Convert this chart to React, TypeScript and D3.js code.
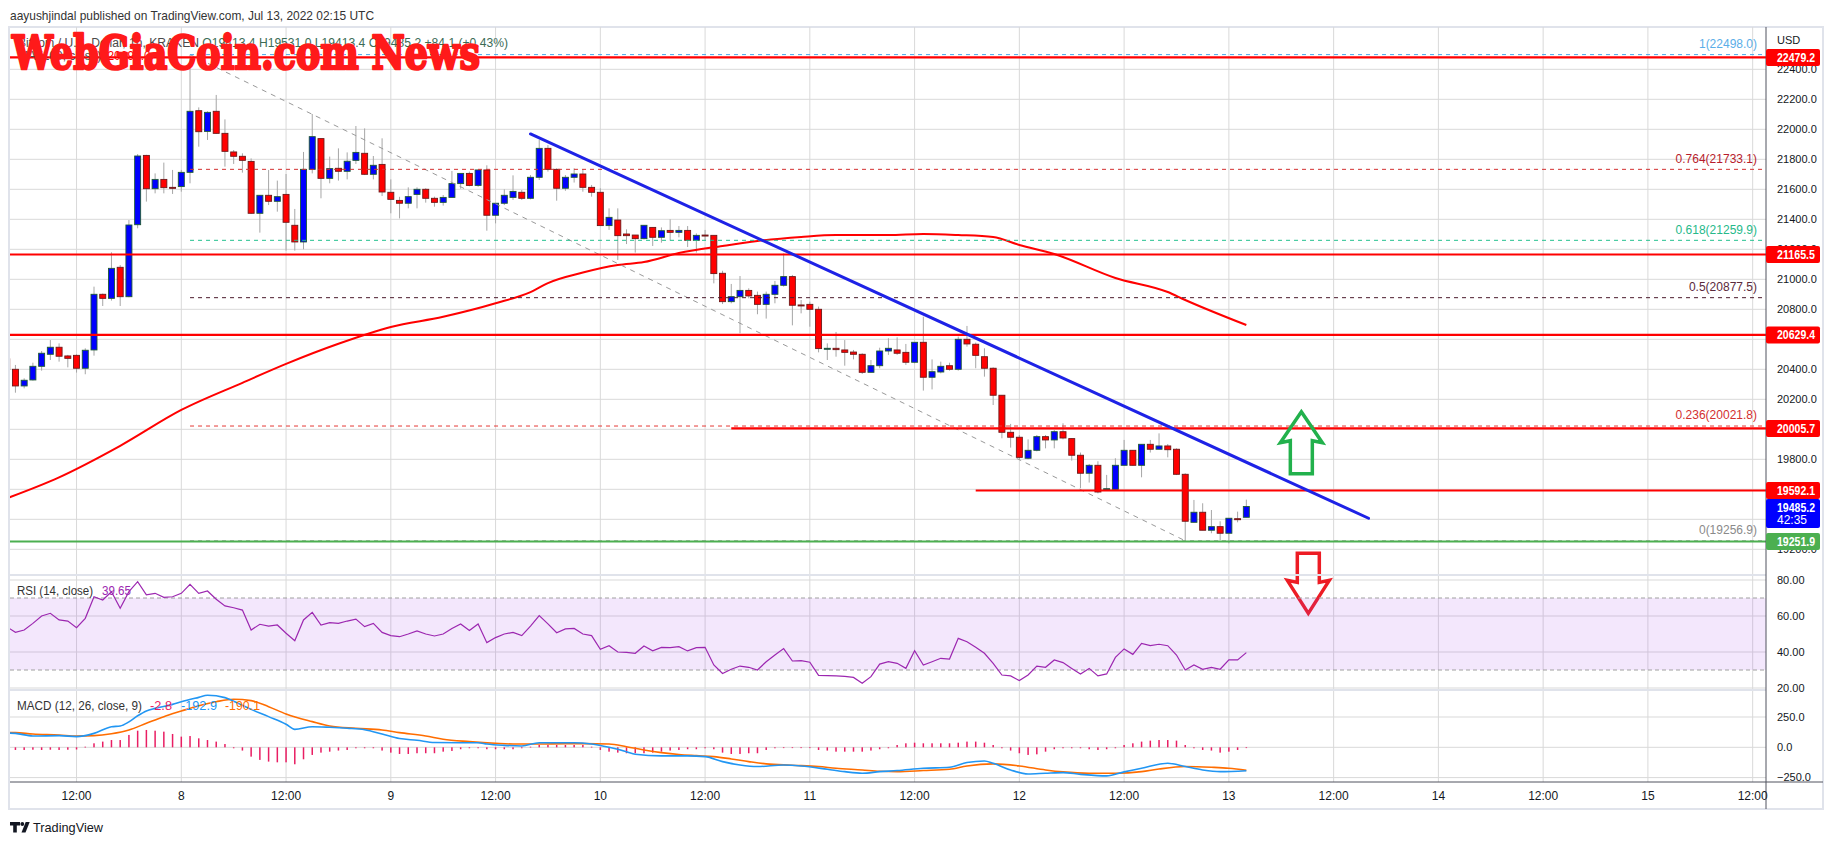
import React from 'react';
import * as d3 from 'd3';

// hours are counted from Jul 8 2022 00:00, one candle per hour
const FIRST_HOUR = -20;

const opens = [
  20470, 20400, 20289, 20329, 20420, 20500, 20547, 20489, 20493, 20407,
  20529, 20900, 20873, 21080, 20884, 21364, 21826, 21604, 21666, 21613,
  21618, 21713, 22124, 21986, 22120, 21973, 21849, 21820, 21786, 21440,
  21560, 21520, 21566, 21360, 21249, 21733, 21938, 21673, 21740, 21720,
  21793, 21840, 21700, 21766, 21580, 21526, 21507, 21566, 21600, 21540,
  21513, 21546, 21638, 21706, 21626, 21729, 21427, 21507, 21546, 21580,
  21540, 21680, 21873, 21733, 21607, 21680, 21702, 21613, 21580, 21358,
  21395, 21302, 21295, 21271, 21346, 21280, 21326, 21313, 21326, 21260,
  21295, 21293, 21040, 20851, 20884, 20926, 20893, 20833, 20900, 20960,
  21018, 20829, 20833, 20800, 20538, 20540, 20529, 20515, 20500, 20380,
  20424, 20522, 20529, 20513, 20447, 20580, 20347, 20382, 20424, 20400,
  20600, 20567, 20484, 20407, 20227, 19980, 19947, 19807, 19860, 19951,
  19929, 19984, 19938, 19827, 19707, 19760, 19600, 19600, 19760, 19860,
  19760, 19900, 19867, 19889, 19867, 19700, 19380, 19447, 19327, 19351,
  19307, 19404, 19413.4,
];
const highs = [
  20480, 20429, 20340, 20444, 20522, 20595, 20573, 20496, 20500, 20540,
  20951, 20905, 21180, 21095, 21395, 21835, 21830, 21706, 21778, 21729,
  21729, 22498, 22146, 22120, 22229, 22066, 21862, 21840, 21806, 21562,
  21729, 21658, 21702, 21469, 21849, 22102, 21940, 21818, 21873, 21846,
  22022, 22006, 21822, 21940, 21666, 21550, 21613, 21613, 21607, 21551,
  21562, 21722, 21706, 21718, 21729, 21760, 21507, 21600, 21693, 21595,
  21695, 21929, 21895, 21740, 21695, 21740, 21733, 21629, 21607, 21473,
  21473, 21333, 21295, 21360, 21346, 21346, 21400, 21355, 21355, 21306,
  21329, 21293, 21057, 20969, 21022, 20940, 20918, 20918, 20989, 21173,
  21029, 20862, 20851, 20818, 20573, 20649, 20595, 20529, 20507, 20462,
  20544, 20607, 20613, 20569, 20580, 20751, 20466, 20451, 20444, 20618,
  20689, 20578, 20540, 20413, 20227, 20036, 19962, 19933, 19962, 19962,
  19995, 20040, 19940, 19845, 19769, 19787, 19696, 19807, 19929, 19862,
  19900, 19929, 19973, 19902, 19873, 19707, 19529, 19507, 19462, 19387,
  19407, 19451, 19531,
];
const lows = [
  20395, 20244, 20273, 20325, 20391, 20462, 20451, 20413, 20378, 20367,
  20491, 20822, 20858, 20822, 20880, 21340, 21518, 21573, 21573, 21569,
  21584, 21640, 21884, 21929, 21970, 21751, 21769, 21711, 21435, 21311,
  21495, 21451, 21191, 21191, 21200, 21706, 21540, 21640, 21658, 21666,
  21769, 21695, 21666, 21555, 21440, 21406, 21473, 21473, 21511, 21484,
  21491, 21546, 21604, 21620, 21617, 21324, 21373, 21495, 21529, 21529,
  21533, 21662, 21718, 21524, 21590, 21645, 21584, 21551, 21358, 21329,
  21129, 21235, 21178, 21266, 21222, 21244, 21258, 21280, 21215, 21178,
  21262, 20973, 20835, 20840, 20640, 20873, 20767, 20738, 20840, 20951,
  20693, 20773, 20684, 20513, 20462, 20484, 20424, 20466, 20369, 20380,
  20407, 20496, 20496, 20429, 20440, 20258, 20266, 20373, 20391, 20391,
  20551, 20407, 20351, 20162, 19940, 19878, 19795, 19800, 19853, 19873,
  19873, 19933, 19791, 19607, 19645, 19573, 19591, 19595, 19760, 19758,
  19680, 19845, 19867, 19813, 19695, 19257, 19380, 19327, 19307, 19262,
  19240, 19380, 19413.4,
];
const closes = [
  20400, 20289, 20327, 20420, 20507, 20547, 20487, 20473, 20407, 20527,
  20900, 20873, 21073, 20884, 21362, 21822, 21604, 21666, 21611, 21613,
  21713, 22120, 21984, 22113, 21973, 21853, 21820, 21793, 21440, 21560,
  21520, 21551, 21380, 21249, 21733, 21951, 21673, 21738, 21720, 21787,
  21846, 21700, 21760, 21582, 21533, 21507, 21551, 21600, 21540, 21513,
  21546, 21638, 21706, 21626, 21729, 21427, 21507, 21560, 21586, 21540,
  21680, 21873, 21733, 21607, 21680, 21702, 21613, 21580, 21358, 21413,
  21291, 21291, 21271, 21360, 21280, 21324, 21313, 21326, 21260, 21293,
  21295, 21038, 20851, 20884, 20926, 20889, 20833, 20900, 20960, 21018,
  20827, 20829, 20800, 20538, 20540, 20531, 20513, 20500, 20380, 20424,
  20522, 20540, 20507, 20447, 20580, 20347, 20384, 20420, 20400, 20600,
  20569, 20493, 20407, 20227, 19980, 19947, 19813, 19860, 19951, 19929,
  19984, 19942, 19827, 19707, 19760, 19582, 19604, 19760, 19860, 19760,
  19900, 19867, 19889, 19864, 19700, 19387, 19447, 19327, 19351, 19307,
  19407, 19400, 19485.2,
];

const rsiValues = [
  54, 50.9, 52.2, 55.9, 60, 61.5, 57.8, 57.2, 53.5, 58.7,
  70.7, 68.9, 73.5, 64.3, 73.5, 79.1, 71.7, 72.6, 70.4, 70.7,
  72.6, 77.6, 72.6, 73.9, 69.3, 65.6, 64.6, 63.3, 52.2, 55.4,
  54.4, 55, 50.4, 46.3, 57.8, 62, 55, 56.3, 55.9, 57.2,
  58.3, 54.1, 55.9, 50.9, 49.1, 48.5, 50, 51.7, 50, 48.9,
  50, 53.1, 55.6, 51.9, 55.6, 45.2, 48, 50, 50.9, 49.1,
  54.4, 60.2, 55.6, 50.7, 52.8, 53.1, 50, 49.1, 41.5, 43.5,
  40, 39.8, 39.3, 43.3, 40.7, 42.6, 42.4, 43, 40.6, 42.4,
  42.6, 32.8, 28.1, 30.4, 32.2, 31.5, 30, 34.6, 38.3, 41.9,
  35, 35.2, 34.3, 27, 26.9, 26.7, 26.5, 25.9, 22.6, 26.3,
  33.3, 34.6, 33.7, 30.9, 40.7, 32.8, 34.6, 36.5, 36.1, 47.6,
  45.7, 42.6, 39.3, 33.7, 27.2, 26.7, 24.1, 27.2, 32.2, 31.5,
  35.6, 34.1, 30.9, 27.8, 30.9, 26.7, 27.8, 37, 41.7, 38.7,
  44.8, 43.5, 44.3, 43.5, 38.3, 30, 32.8, 30.4, 31.5, 30.4,
  35.6, 35.6, 39.65,
];

const macdHist = [
  -20, -22, -22, -20, -22, -20, -22, -20, -18, 5,
  33, 47, 60, 60, 102, 137, 143, 137, 129, 110,
  88, 93, 74, 60, 47, 27, -8, -27, -77, -104,
  -118, -124, -124, -140, -99, -63, -44, -36, -27, -22,
  -8, -8, -8, -27, -44, -55, -55, -49, -49, -49,
  -36, -30, -16, -8, -8, -16, -16, -16, -16, -8,
  5, 19, 19, 19, 19, 19, 19, 5, -22, -36,
  -44, -49, -49, -49, -44, -36, -27, -22, -16, -16,
  -8, -16, -44, -55, -55, -49, -49, -22, -8, 0,
  0, 0, -3, -22, -27, -36, -36, -36, -36, -27,
  -16, -8, 19, 33, 38, 33, 33, 33, 33, 38,
  47, 47, 38, 19, -8, -27, -49, -63, -58, -36,
  -16, -8, -8, -8, -16, -22, -16, -8, 19, 33,
  47, 55, 60, 60, 55, 19, -8, -22, -27, -44,
  -36, -22, -2.8,
];

// [hour, value] readings of the MACD and signal lines
const macdLine: [number, number][] = [
  [-20, 118], [-19, 115], [-17, 93], [-14, 96], [-12, 88], [-10, 115], [-8, 170], [-7, 176],
  [-6, 210], [-5, 260], [-4, 300], [-3, 321], [-1, 354], [0, 376], [2, 412], [3, 429],
  [5, 410], [6, 380], [8, 313], [10, 253], [12, 190], [13, 148], [15, 170], [17, 165],
  [19, 157], [21, 145], [23, 110], [25, 72], [27, 58], [29, 40], [32, 38], [34, 38],
  [35, 27], [37, 16], [39, 11], [41, 38], [43, 38], [45, 38], [47, 27], [49, 0],
  [51, -36], [52, -58], [55, -71], [58, -71], [60, -77], [62, -118], [64, -146], [66, -159],
  [69, -146], [71, -154], [74, -181], [76, -201], [78, -214], [80, -201], [82, -192], [85, -173],
  [88, -165], [90, -126], [92, -113], [93, -132], [95, -187], [97, -220], [99, -214], [101, -209],
  [103, -223], [106, -236], [108, -203], [110, -173], [113, -132], [115, -159], [117, -187],
  [119, -201], [122, -192.9],
];
const signalLine: [number, number][] = [
  [-20, 122], [-19, 121], [-17, 110], [-14, 102], [-12, 93], [-10, 96], [-8, 112], [-6, 143],
  [-4, 198], [-2, 253], [0, 299], [2, 343], [4, 376], [6, 396], [8, 385], [10, 335],
  [12, 275], [15, 212], [17, 176], [20, 157], [23, 143], [25, 121], [28, 93], [30, 66],
  [33, 47], [36, 33], [38, 27], [41, 27], [44, 30], [46, 30], [49, 27], [51, 5],
  [53, -22], [55, -44], [57, -60], [59, -69], [61, -77], [63, -96], [65, -118], [67, -137],
  [70, -148], [73, -159], [75, -173], [78, -187], [80, -198], [82, -201], [85, -192], [88, -181],
  [90, -154], [93, -137], [96, -154], [99, -187], [101, -203], [104, -214], [107, -214],
  [110, -201], [112, -179], [115, -159], [118, -165], [120, -173], [122, -190.1],
];

// 100-period moving average readings
const ma100: [number, number][] = [
  [-20, 19540], [-14, 19680], [-7, 19890], [0, 20129], [7, 20310], [12, 20436], [18, 20570],
  [24, 20682], [30, 20750], [36, 20840], [40, 20915], [42, 20975], [46, 21045], [50, 21095],
  [53, 21115], [57, 21175], [62, 21222], [66, 21255], [71, 21282], [75, 21295], [81, 21295],
  [85, 21302], [89, 21295], [93, 21282], [96, 21229], [100, 21169], [107, 21009],
  [113, 20915], [115, 20862], [122, 20695],
];

const priceTicks = [22400, 22200, 22000, 21800, 21600, 21400, 21200, 21000, 20800, 20600, 20400, 20200, 20000, 19800, 19600, 19400, 19200];
const rsiTicks = [80, 60, 40, 20];
const macdTicks = [250, 0, -250];
const timeTickHours = [-12, 0, 12, 24, 36, 48, 60, 72, 84, 96, 108, 120, 132, 144, 156, 168, 180];
const timeTickLabels = ['12:00', '8', '12:00', '9', '12:00', '10', '12:00', '11', '12:00', '12', '12:00', '13', '12:00', '14', '12:00', '15', '12:00'];

const resistanceLevels = [22479.2, 21165.5, 20629.4, 20005.7, 19592.1];
const resistanceFromHour = [null, null, null, 63, 91];
const supportLevel = 19251.9;
const lastPrice = 19485.2;
const countdown = '42:35';

const fibHigh = 22498.0;
const fibLow = 19256.9;
const fibHighHour = 1;
const fibLowHour = 115;
const fibRatios = [1, 0.764, 0.618, 0.5, 0.236, 0];

const trendFrom: [number, number] = [40, 21969];
const trendTo: [number, number] = [136, 19407];
const upArrowAt: [number, number] = [128.3, 20117];
const downArrowAt: [number, number] = [129.1, 19173];

const FONT = "'Liberation Sans', Arial, sans-serif";
const fibColors = ['#4aa8e8', '#d32f2f', '#22c08e', '#4a1a2c', '#e53935', '#9e9e9e'];
const fibTextColors = ['#5aaee8', '#b71c2c', '#26b98a', '#5b2a3c', '#d32f2f', '#8a8a8a'];

export default function App() {
  const L = 10;
  const R = 1766;
  const TOP = 27;
  const MAIN_B = 575;
  const RSI_B = 690;
  const MACD_B = 782;
  const AXIS_B = 809;

  const x = d3.scaleLinear().domain([0, 168]).range([181.3, 1647.9]);
  const yP = d3.scaleLinear().domain([19200, 22400]).range([549.3, 69.3]);
  const yR = d3.scaleLinear().domain([20, 80]).range([688, 580]);
  const yM = d3.scaleLinear().domain([-250, 250]).range([777.6, 717]);

  const hourOf = (i: number) => FIRST_HOUR + i;

  const maPath = d3.line<[number, number]>().x(d => x(d[0])).y(d => yP(d[1])).curve(d3.curveMonotoneX)(ma100) || '';
  const rsiPath = d3.line<number>().x((_, i) => x(hourOf(i))).y(d => yR(d))(rsiValues) || '';
  const macdPath = d3.line<[number, number]>().x(d => x(d[0])).y(d => yM(d[1])).curve(d3.curveMonotoneX)(macdLine) || '';
  const signalPath = d3.line<[number, number]>().x(d => x(d[0])).y(d => yM(d[1])).curve(d3.curveMonotoneX)(signalLine) || '';

  const fibLevels = fibRatios.map(r => fibLow + r * (fibHigh - fibLow));

  const ux = x(upArrowAt[0]);
  const uy = yP(upArrowAt[1]);
  const upArrow = `M${ux},${uy} L${ux + 21},${uy + 31} L${ux + 11},${uy + 29} L${ux + 11},${uy + 62} L${ux - 11},${uy + 62} L${ux - 11},${uy + 29} L${ux - 21},${uy + 31} Z`;
  const dx = x(downArrowAt[0]);
  const dy = yP(downArrowAt[1]);
  const downArrow = `M${dx - 11},${dy} L${dx + 11},${dy} L${dx + 11},${dy + 29} L${dx + 21},${dy + 27} L${dx},${dy + 60} L${dx - 21},${dy + 27} L${dx - 11},${dy + 29} Z`;

  const tag = (y: number, label: string, fill: string, key: string) => (
    <g key={key}>
      <rect x={R} y={y - 8.5} width={54} height={17} rx={2} fill={fill} />
      <text x={R + 11} y={y} dy="0.35em" fill="#fff" fontSize={12} fontWeight="bold" textLength={38} lengthAdjust="spacingAndGlyphs">{label}</text>
    </g>
  );

  return (
    <svg width={1834} height={845} style={{ position: 'absolute', left: 0, top: 0 }} fontFamily={FONT}>
      <defs>
        <clipPath id="main"><rect x={L} y={TOP} width={R - L} height={MAIN_B - TOP} /></clipPath>
        <clipPath id="rsi"><rect x={L} y={MAIN_B} width={R - L} height={RSI_B - MAIN_B} /></clipPath>
        <clipPath id="macd"><rect x={L} y={RSI_B} width={R - L} height={MACD_B - RSI_B} /></clipPath>
      </defs>
      <rect width={1834} height={845} fill="#fff" />
      <text x={10} y={15} dy="0.35em" fontSize={13} fill="#333" textLength={364} lengthAdjust="spacingAndGlyphs">aayushjindal published on TradingView.com, Jul 13, 2022 02:15 UTC</text>

      <rect x={9} y={TOP} width={1814} height={AXIS_B - TOP} fill="#fff" stroke="#e0e3eb" strokeWidth={2} />

      {/* grid */}
      <g stroke="#d9d9d9" strokeWidth={1}>
        {timeTickHours.map(h => <line key={'v' + h} x1={x(h)} x2={x(h)} y1={TOP} y2={MACD_B} />)}
        {priceTicks.map(p => <line key={'p' + p} x1={L} x2={R} y1={yP(p)} y2={yP(p)} />)}
        {rsiTicks.map(v => <line key={'r' + v} x1={L} x2={R} y1={yR(v)} y2={yR(v)} />)}
        {macdTicks.map(v => <line key={'m' + v} x1={L} x2={R} y1={yM(v)} y2={yM(v)} />)}
      </g>

      {/* candles */}
      <g clipPath="url(#main)">
        {opens.map((o, i) => {
          const cx = x(hourOf(i));
          return <line key={'w' + i} x1={cx} x2={cx} y1={yP(highs[i])} y2={yP(lows[i])} stroke="#a6a6a6" strokeWidth={1} />;
        })}
        {opens.map((o, i) => {
          const cx = x(hourOf(i));
          const c = closes[i];
          const top = yP(Math.max(o, c));
          const h = Math.max(1, yP(Math.min(o, c)) - top);
          const up = c > o;
          return (
            <rect key={'b' + i} x={cx - 3} y={top} width={6} height={h}
              fill={up ? '#0000ff' : '#ff0000'}
              stroke={up ? '#1e5a32' : '#6e1818'}
              strokeWidth={0.9} />
          );
        })}
        <path d={maPath} fill="none" stroke="#ff0000" strokeWidth={2} />

        {/* fibonacci retracement */}
        <line x1={x(fibHighHour)} y1={yP(fibHigh)} x2={x(fibLowHour)} y2={yP(fibLow)} stroke="#9a9a9a" strokeWidth={1} strokeDasharray="5 5" />
        {fibLevels.map((v, i) => (
          <line key={'f' + i} x1={x(fibHighHour)} x2={R} y1={yP(v)} y2={yP(v)} stroke={fibColors[i]} strokeWidth={1} strokeDasharray="4 4" />
        ))}
        {fibLevels.map((v, i) => (
          <text key={'ft' + i} x={1757} y={yP(v) - 11} dy="0.35em" textAnchor="end" fontSize={12} fill={fibTextColors[i]}>
            {`${fibRatios[i]}(${v.toFixed(1)})`}
          </text>
        ))}

        {/* horizontal levels */}
        {resistanceLevels.map((p, i) => (
          <line key={'lv' + i} x1={resistanceFromHour[i] == null ? L : x(resistanceFromHour[i] as number)} x2={R} y1={yP(p)} y2={yP(p)} stroke="#ff0000" strokeWidth={2.2} />
        ))}
        <line x1={L} x2={R} y1={yP(supportLevel)} y2={yP(supportLevel)} stroke="#4caf50" strokeWidth={2} />

        <line x1={x(trendFrom[0])} y1={yP(trendFrom[1])} x2={x(trendTo[0])} y2={yP(trendTo[1])} stroke="#1e22e6" strokeWidth={3} strokeLinecap="round" />
        <path d={upArrow} fill="none" stroke="#22b14c" strokeWidth={3.5} strokeLinejoin="miter" />
      </g>
      <path d={downArrow} fill="none" stroke="#ed1c24" strokeWidth={3.5} />

      {/* RSI pane */}
      <rect x={L} y={yR(70)} width={R - L} height={yR(30) - yR(70)} fill="rgba(165, 70, 235, 0.13)" />
      <g stroke="#a0a0a0" strokeDasharray="4 3">
        <line x1={L} x2={R} y1={yR(70)} y2={yR(70)} />
        <line x1={L} x2={R} y1={yR(30)} y2={yR(30)} />
      </g>
      <g clipPath="url(#rsi)">
        <path d={rsiPath} fill="none" stroke="#9c27b0" strokeWidth={1.2} />
      </g>
      <text x={17} y={591} dy="0.35em" fontSize={12} fill="#333" textLength={76} lengthAdjust="spacingAndGlyphs">RSI (14, close)</text>
      <text x={102} y={591} dy="0.35em" fontSize={12} fill="#9c27b0" textLength={29} lengthAdjust="spacingAndGlyphs">{rsiValues[rsiValues.length - 1].toFixed(2)}</text>

      {/* MACD pane */}
      <g clipPath="url(#macd)">
        {macdHist.map((v, i) => {
          const cx = x(hourOf(i));
          const y0 = yM(0);
          const y1 = yM(v);
          return <rect key={'h' + i} x={cx - 0.75} y={Math.min(y0, y1)} width={1.5} height={Math.max(0.8, Math.abs(y1 - y0))} fill="#e91e63" />;
        })}
        <path d={signalPath} fill="none" stroke="#ff6d00" strokeWidth={1.6} />
        <path d={macdPath} fill="none" stroke="#2196f3" strokeWidth={1.6} />
      </g>
      <g fontSize={12}>
        <text x={17} y={706} dy="0.35em" fill="#333" textLength={125} lengthAdjust="spacingAndGlyphs">MACD (12, 26, close, 9)</text>
        <text x={150} y={706} dy="0.35em" fill="#e91e63" textLength={22} lengthAdjust="spacingAndGlyphs">{macdHist[macdHist.length - 1].toFixed(1)}</text>
        <text x={181} y={706} dy="0.35em" fill="#2196f3" textLength={36} lengthAdjust="spacingAndGlyphs">{macdLine[macdLine.length - 1][1].toFixed(1)}</text>
        <text x={225} y={706} dy="0.35em" fill="#ff6d00" textLength={35} lengthAdjust="spacingAndGlyphs">{signalLine[signalLine.length - 1][1].toFixed(1)}</text>
      </g>

      {/* pane separators and axes */}
      <line x1={L} x2={R} y1={MAIN_B} y2={MAIN_B} stroke="#e0e3eb" strokeWidth={2} />
      <line x1={L} x2={R} y1={RSI_B} y2={RSI_B} stroke="#e0e3eb" strokeWidth={2} />
      <line x1={L} x2={1823} y1={MACD_B} y2={MACD_B} stroke="#50535e" strokeWidth={1} />
      <line x1={R} x2={R} y1={TOP} y2={AXIS_B} stroke="#50535e" strokeWidth={1} />

      <g fontSize={11} fill="#131722">
        <text x={1777} y={40} dy="0.35em">USD</text>
        {priceTicks.map(p => <text key={'pt' + p} x={1777} y={yP(p)} dy="0.35em">{p.toFixed(1)}</text>)}
        {rsiTicks.map(v => <text key={'rt' + v} x={1777} y={yR(v)} dy="0.35em">{v.toFixed(2)}</text>)}
        {macdTicks.map(v => <text key={'mt' + v} x={1777} y={yM(v)} dy="0.35em">{v < 0 ? '\u2212' + Math.abs(v).toFixed(1) : v.toFixed(1)}</text>)}
      </g>
      <g fontSize={12} fill="#131722" textAnchor="middle">
        {timeTickHours.map((h, i) => <text key={'tt' + h} x={x(h)} y={796} dy="0.35em">{timeTickLabels[i]}</text>)}
      </g>

      {resistanceLevels.map((p, i) => tag(yP(p), p.toFixed(1), '#ff0000', 'tag' + i))}
      {tag(yP(supportLevel), supportLevel.toFixed(1), '#4caf50', 'tagS')}
      <g>
        <rect x={R} y={499} width={54} height={29} rx={2} fill="#0000ff" />
        <text x={R + 11} y={507.5} dy="0.35em" fill="#fff" fontSize={12} fontWeight="bold" textLength={38} lengthAdjust="spacingAndGlyphs">{lastPrice.toFixed(1)}</text>
        <text x={R + 11} y={519.5} dy="0.35em" fill="#fff" fontSize={12}>{countdown}</text>
      </g>

      {/* legend */}
      <text x={18} y={43} dy="0.35em" fontSize={12} fill="#4a4a4a" textLength={490} lengthAdjust="spacingAndGlyphs">
        Bitcoin / U.S. Dollar, 1h, KRAKEN
        <tspan fill="#3b6b55">{`  O${opens[opens.length - 1]}  H${highs[highs.length - 1].toFixed(1)}  L${lows[lows.length - 1]}  C${closes[closes.length - 1]}  +84.1 (+0.43%)`}</tspan>
      </text>
      <text x={18} y={56} dy="0.35em" fontSize={12} fill="#4a4a4a">MA (100, close)
        <tspan fill="#ff0000" dx={6}>{ma100[ma100.length - 1][1].toFixed(1)}</tspan>
      </text>

      {/* watermark */}
      <text x={12} y={69} fontSize={47} fontWeight="bold" fontFamily="'DejaVu Serif', serif" fill="#ff1a1a" stroke="#ff1a1a" strokeWidth={2.6} strokeLinejoin="round" textLength={468} lengthAdjust="spacingAndGlyphs">WebGiaCoin.com News</text>

      {/* footer */}
      <g fill="#131722">
        <path d="M10,822 h10 v3.5 h-3.2 v7 h-3.6 v-7 h-3.2 z" />
        <circle cx={22.3} cy={824} r={1.9} />
        <path d="M21.5,832.5 l4.2,-10.5 h4 l-4.2,10.5 z" />
        <text x={33} y={827} dy="0.35em" fontSize={13} textLength={70} lengthAdjust="spacingAndGlyphs">TradingView</text>
      </g>
    </svg>
  );
}
